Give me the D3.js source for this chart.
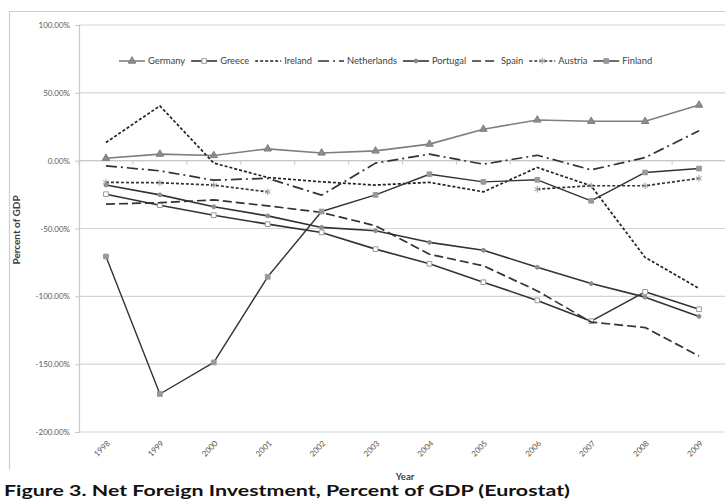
<!DOCTYPE html>
<html><head><meta charset="utf-8">
<script src="https://cdn.jsdelivr.net/npm/d3@7"></script>
<style>
body{margin:0;background:#fff;}
svg{display:block;font-family:Lato,"Open Sans",sans-serif;}
</style></head><body>
<svg id="c" width="725" height="502"></svg>
<script>
const years = ["1998","1999","2000","2001","2002","2003","2004","2005","2006","2007","2008","2009"];
const germany     = [1.8, 4.8, 3.8, 8.7, 5.7, 7.2, 12.2, 23.2, 30, 29, 29, 41];
const greece      = [-24.7, -32.8, -40.2, -46.8, -52.9, -65.2, -76, -89.6, -103, -118.3, -96.7, -109.5];
const ireland     = [13.4, 40.4, -1.8, -12.4, -15.6, -18, -16, -23, -5, -18.6, -71.3, -94.2];
const netherlands = [-3.8, -7.5, -14.4, -13, -25.4, -1.8, 4.8, -2.6, 4, -6.8, 2.3, 22];
const portugal    = [-18, -25.2, -34, -40.7, -49.2, -51.7, -60.2, -66, -78.6, -90.6, -100.6, -114.8];
const spain       = [-32, -31, -28.9, -33.3, -38.2, -48, -69, -77.5, -96, -119, -123, -144];
const austria     = [-16, -16.3, -18, -23, null, null, null, null, -21, -18.5, -18.5, -13];
const finland     = [-70.6, -172, -148.7, -85.6, -37.5, -25.2, -10, -15.6, -14.1, -29.6, -8.7, -5.8];
const yTicks = [-200, -150, -100, -50, 0, 50, 100];

const seriesNames = ["Germany","Greece","Ireland","Netherlands","Portugal","Spain","Austria","Finland"];
const seriesVals = [germany, greece, ireland, netherlands, portugal, spain, austria, finland];
const styles = {
  Germany:     {stroke:"#7f7f7f", dash:null, w:1.6, sym:d3.symbolTriangle, size:24, fill:"#8c8c8c", mstroke:"#7f7f7f"},
  Greece:      {stroke:"#333", dash:null, w:1.6, sym:d3.symbolSquare, size:22, fill:"#fff", mstroke:"#999"},
  Ireland:     {stroke:"#222", dash:"3,2", w:1.7, sym:null},
  Netherlands: {stroke:"#333", dash:"11,4,2,4", w:1.7, sym:null},
  Portugal:    {stroke:"#333", dash:null, w:1.6, sym:d3.symbolCircle, size:12, fill:"#8c8c8c", mstroke:"#8c8c8c"},
  Spain:       {stroke:"#333", dash:"9,4", w:1.7, sym:null},
  Austria:     {stroke:"#333", dash:"3,2", w:1.7, sym:d3.symbolAsterisk, size:30, fill:"none", mstroke:"#999"},
  Finland:     {stroke:"#333", dash:null, w:1.4, sym:d3.symbolSquare, size:22, fill:"#999", mstroke:"#999"}
};

const svg = d3.select("#c");
const L = 79, R = 726, T = 25, B = 432;
const x = d3.scalePoint().domain(years).range([L, R]).padding(0.5);
const xb = d3.scaleBand().domain(years).range([L, R]);
const y = d3.scaleLinear().domain([-200, 100]).range([B, T]);

// outer border
svg.append("path").attr("d", `M9.5,470 V11.5 H725`).attr("fill","none").attr("stroke","#cfcfcf").attr("stroke-width",1.2);

// gridlines
svg.append("g").selectAll("line").data(yTicks).join("line")
  .attr("x1", L).attr("x2", R).attr("y1", d => y(d)).attr("y2", d => y(d))
  .attr("stroke", "#d4d4d4").attr("stroke-width", 1.2);

// y axis
const ya = svg.append("g").attr("transform", `translate(${L},0)`)
  .call(d3.axisLeft(y).tickValues(yTicks).tickFormat(d => d.toFixed(2) + "%").tickSize(4).tickPadding(5));
ya.select(".domain").attr("stroke", "#c8c8c8").attr("stroke-width", 1.2);
ya.selectAll(".tick line").attr("stroke", "#c8c8c8");
ya.selectAll("text").attr("fill", "#595959").attr("font-size", 8).attr("font-family","Lato, sans-serif");

// x axis line at 0 with boundary ticks
svg.append("line").attr("x1", L).attr("x2", R).attr("y1", y(0)).attr("y2", y(0)).attr("stroke", "#c8c8c8").attr("stroke-width", 1.2);
svg.append("g").selectAll("line").data(years).join("line")
  .attr("x1", d => xb(d)).attr("x2", d => xb(d)).attr("y1", y(0)).attr("y2", y(0) + 4)
  .attr("stroke", "#c8c8c8");

// x labels
const xa = svg.append("g").attr("transform", `translate(0,${B})`)
  .call(d3.axisBottom(x).tickSize(0).tickPadding(0));
xa.select(".domain").remove();
xa.selectAll("text").attr("fill", "#595959").attr("font-size", 8).attr("font-family","Lato, sans-serif")
  .attr("text-anchor", "end").attr("dy", 0)
  .attr("transform", "translate(4,12) rotate(-45)");

// lines
seriesNames.forEach((name, si) => {
  const st = styles[name];
  const vals = seriesVals[si];
  const pts = years.map((yr, i) => ({yr, v: vals[i]}));
  const line = d3.line().defined(d => d.v !== null).x(d => x(d.yr)).y(d => y(d.v));
  svg.append("path").datum(pts).attr("d", line).attr("fill", "none")
    .attr("stroke", st.stroke).attr("stroke-width", st.w)
    .attr("stroke-dasharray", st.dash).attr("stroke-linejoin", "round");
  if (st.sym) {
    svg.append("g").selectAll("path").data(pts.filter(d => d.v !== null)).join("path")
      .attr("d", d3.symbol(st.sym, st.size))
      .attr("transform", d => `translate(${x(d.yr)},${y(d.v)})`)
      .attr("fill", st.fill).attr("stroke", st.mstroke).attr("stroke-width", 1);
  }
});

// legend
const lg = svg.append("g").attr("transform", "translate(119,61)");
let cx = 0;
seriesNames.forEach(name => {
  const st = styles[name];
  const g = lg.append("g").attr("transform", `translate(${cx},0)`);
  g.append("line").attr("x1", 0).attr("x2", 26).attr("y1", 0).attr("y2", 0)
    .attr("stroke", st.stroke).attr("stroke-width", st.w).attr("stroke-dasharray", st.dash);
  if (st.sym) g.append("path").attr("d", d3.symbol(st.sym, st.size)).attr("transform", "translate(13,0)")
    .attr("fill", st.fill).attr("stroke", st.mstroke).attr("stroke-width", 1);
  const t = g.append("text").attr("x", 29).attr("y", 3.2).attr("font-size", 9.3).attr("fill", "#404040").text(name);
  cx += 29 + t.node().getComputedTextLength() + 6;
});

// axis titles
svg.append("text").attr("transform", `translate(20,230) rotate(-90)`).attr("text-anchor", "middle")
  .attr("font-size", 10).attr("font-weight", "bold").attr("fill", "#404040").text("Percent of GDP");
svg.append("text").attr("x", 405).attr("y", 480).attr("text-anchor", "middle")
  .attr("font-size", 9.5).attr("font-weight", "bold").attr("fill", "#404040").text("Year");

// caption
svg.append("text").attr("x", 4).attr("y", 496).attr("font-size", 15).attr("font-weight", "bold")
  .attr("fill", "#111").attr("textLength", 566).attr("lengthAdjust", "spacingAndGlyphs")
  .text("Figure 3. Net Foreign Investment, Percent of GDP (Eurostat)");
</script>
</body></html>
